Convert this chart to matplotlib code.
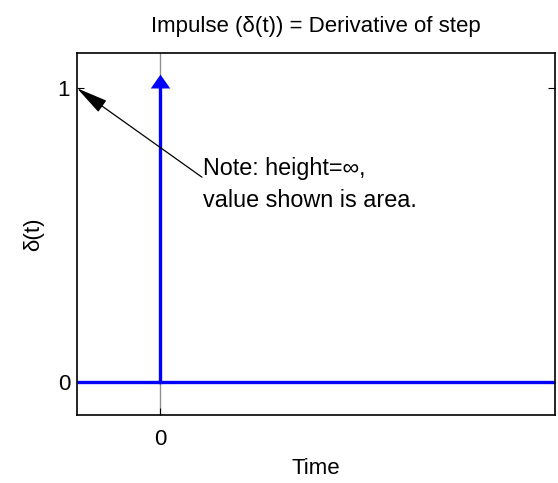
import matplotlib
matplotlib.use("Agg")
import matplotlib.pyplot as plt
from matplotlib import font_manager
from matplotlib.path import Path

# impulse data
impulse_t = [0, 0]
impulse_y = [0, 1]
baseline_t = [-0.5, 2.38]
baseline_y = [0, 0]
xticks = [0]
yticks = [0, 1]

names = {f.name for f in font_manager.fontManager.ttflist}
if 'Liberation Sans Narrow' in names:
    FAMILY = ['Liberation Sans Narrow', 'Liberation Sans', 'DejaVu Sans']
    FS = 19.5
else:
    FAMILY = ['Liberation Sans', 'DejaVu Sans']
    FS = 16
plt.rcParams['font.family'] = FAMILY

fig = plt.figure(figsize=(5.58, 4.83), dpi=100)
ax = fig.add_axes([77/558, 1 - 415/483, (555-77)/558, (415-53)/483])

ax.set_xlim(-0.5, 2.38)
ax.set_ylim(-0.113, 1.12)

# gray reference line at t=0
ax.axvline(0, color='#909090', lw=1, zorder=1)
# baseline and impulse
ax.plot(baseline_t, baseline_y, color='#0000ff', lw=2.4, zorder=2, solid_capstyle='butt')
ax.plot(impulse_t, impulse_y, color='#0000ff', lw=2.4, zorder=3)
# arrowhead sitting on top of the impulse
head = Path([(-0.7, 0), (0.7, 0), (0, 1), (-0.7, 0)],
            [Path.MOVETO, Path.LINETO, Path.LINETO, Path.CLOSEPOLY])
ax.plot([impulse_t[1]], [impulse_y[1]], marker=head, color='#0000ff',
        ms=20, mew=0, zorder=4)

ax.set_xticks(xticks)
ax.set_yticks(yticks)
ax.tick_params(direction='in', length=5, labelsize=FS, right=True, top=False)
ax.tick_params(axis='y', pad=5)
ax.tick_params(axis='x', pad=10)
for s in ax.spines.values():
    s.set_linewidth(1.2)

ax.set_title('Impulse (δ(t)) = Derivative of step', fontsize=FS, pad=15)
ax.set_xlabel('Time', fontsize=FS, labelpad=6)
ax.set_ylabel('δ(t)', fontsize=FS, labelpad=10)

ax.text(0.262, 0.672, 'Note: height=∞,\nvalue shown is area.', fontsize=FS + 0.8,
        va='center', ha='left', linespacing=1.45)
ax.annotate('', xy=(-0.5, 1), xytext=(0.253, 0.697), textcoords='data',
            arrowprops=dict(arrowstyle='-|>,head_length=0.9,head_width=0.2',
                            color='black', lw=0.9, mutation_scale=22,
                            shrinkA=0, shrinkB=0))

fig.savefig('out.png', dpi=100)
